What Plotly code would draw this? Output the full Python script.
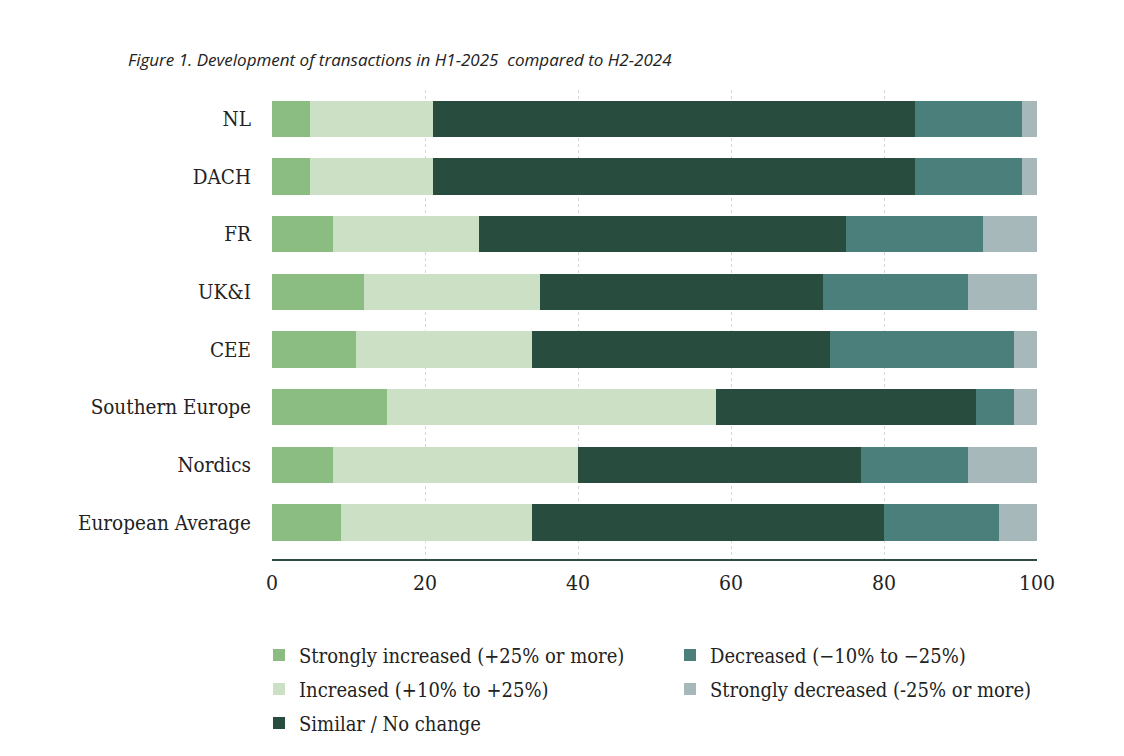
import plotly.graph_objects as go

regions = ["NL", "DACH", "FR", "UK&I", "CEE", "Southern Europe", "Nordics", "European Average"]
strongly_increased = [5, 5, 8, 12, 11, 15, 8, 9]
increased = [16, 16, 19, 23, 23, 43, 32, 25]
similar = [63, 63, 48, 37, 39, 34, 37, 46]
decreased = [14, 14, 18, 19, 24, 5, 14, 15]
strongly_decreased = [2, 2, 7, 9, 3, 3, 9, 5]

series_names = [
    "Strongly increased (+25% or more)",
    "Increased (+10% to +25%)",
    "Similar / No change",
    "Decreased (\u221210% to \u221225%)",
    "Strongly decreased (-25% or more)",
]
series_values = [strongly_increased, increased, similar, decreased, strongly_decreased]
colors = ["#8BBD82", "#CCE0C6", "#284D3F", "#4B7F7C", "#A7B8BB"]
# legend grid: rows of the two-column legend (column-wise reading order)
legend_ids = ["legend", "legend2", "legend3", "legend", "legend2"]
legend_ranks = [1, 1, 1, 2, 2]

tick_vals = [0, 20, 40, 60, 80, 100]

label_font = "DejaVu Serif Condensed, DejaVu Serif, serif"

fig = go.Figure()
for name, vals, col, lg, rank in zip(series_names, series_values, colors, legend_ids, legend_ranks):
    fig.add_trace(go.Bar(
        y=regions, x=vals, name=name, orientation="h",
        marker=dict(color=col, line=dict(width=0)),
        width=0.63, legend=lg, legendrank=rank,
    ))

legend_common = dict(
    orientation="h", x=-0.017, xanchor="left", yanchor="middle",
    entrywidth=366, entrywidthmode="pixels", traceorder="normal",
    font=dict(family=label_font, size=20, color="#222222"),
    bgcolor="rgba(0,0,0,0)",
)

fig.update_layout(
    barmode="stack",
    width=1124, height=756,
    paper_bgcolor="white", plot_bgcolor="white",
    margin=dict(l=264, r=95, t=82, b=205),
    font=dict(family=label_font, size=20, color="#222222"),
    title=dict(
        text="<i>Figure 1. Development of transactions in H1-2025&nbsp; compared to H2-2024</i>",
        x=120 / 1124, xanchor="left", y=1 - 52 / 756, yanchor="middle",
        font=dict(family="Open Sans, sans-serif", size=17, color="#222222"),
    ),
    xaxis=dict(
        range=[0, 100], tickvals=tick_vals, showgrid=True,
        gridcolor="#d6d6d6", griddash="dot", gridwidth=1,
        zeroline=False, showline=True, linecolor="#2f4a44", linewidth=2,
        ticks="", ticklabelstandoff=4,
        tickfont=dict(size=21),
    ),
    yaxis=dict(
        categoryorder="array", categoryarray=regions,
        range=[7.63, -0.5], showgrid=False, zeroline=False,
        ticks="", ticklabelstandoff=20,
        tickfont=dict(size=20.5),
    ),
    legend=dict(legend_common, y=-0.2047),
    legend2=dict(legend_common, y=-0.2772),
    legend3=dict(legend_common, y=-0.3497),
    showlegend=True,
)

fig.write_html("out.html")
